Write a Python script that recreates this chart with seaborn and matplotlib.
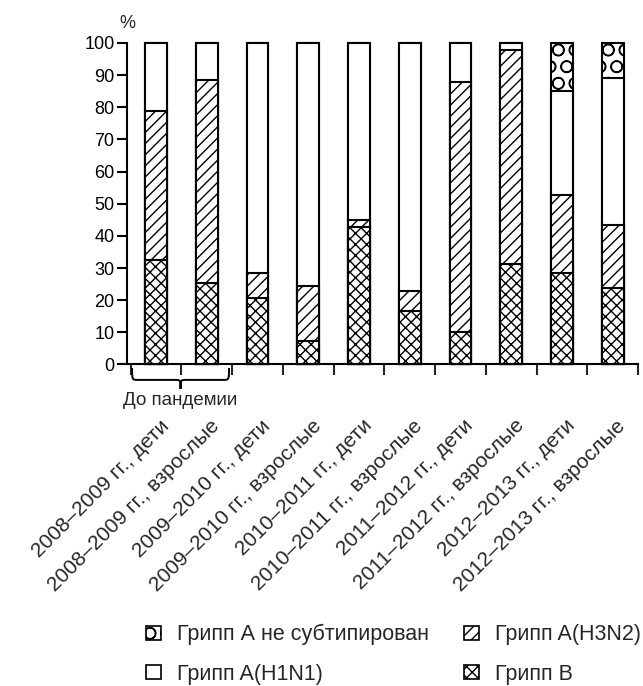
import numpy as np
import pandas as pd
import seaborn as sns
import matplotlib.pyplot as plt
from matplotlib.patches import Patch, PathPatch
from matplotlib.path import Path
from matplotlib.transforms import ScaledTranslation

sns.set_style('ticks')
plt.rcParams['font.family'] = ['Liberation Sans', 'DejaVu Sans']
plt.rcParams['hatch.linewidth'] = 1.0

seasons = [
    '2008–2009 гг., дети', '2008–2009 гг., взрослые',
    '2009–2010 гг., дети', '2009–2010 гг., взрослые',
    '2010–2011 гг., дети', '2010–2011 гг., взрослые',
    '2011–2012 гг., дети', '2011–2012 гг., взрослые',
    '2012–2013 гг., дети', '2012–2013 гг., взрослые',
]

# доли, % (снизу вверх)
gripp_b = [32.6, 25.4, 20.7, 7.4, 42.9, 16.6, 10.0, 31.2, 28.6, 23.7]
gripp_h3n2 = [46.3, 63.0, 7.9, 17.0, 1.9, 6.3, 77.7, 66.5, 24.2, 19.6]
gripp_h1n1 = [21.1, 11.6, 71.4, 75.6, 55.2, 77.1, 12.3, 2.3, 32.3, 45.7]
gripp_nesub = [0, 0, 0, 0, 0, 0, 0, 0, 14.9, 11.0]

df = pd.DataFrame({
    'season': seasons,
    'B': gripp_b,
    'H3N2': gripp_h3n2,
    'H1N1': gripp_h1n1,
    'nesub': gripp_nesub,
})
df['c1'] = df['B']
df['c2'] = df['c1'] + df['H3N2']
df['c3'] = df['c2'] + df['H1N1']
df['c4'] = df['c3'] + df['nesub']

fig = plt.figure(figsize=(6.43, 6.86), dpi=100)
ax = fig.add_axes([0.1975, 0.4687, 0.795, 0.4687])

layers = [
    ('c4', 'O'),
    ('c3', ''),
    ('c2', '///'),
    ('c1', 'xxx'),
]
for col, hatch in layers:
    sns.barplot(data=df, x='season', y=col, color='white', saturation=1,
                edgecolor='black', linewidth=1.5, width=0.43, hatch=hatch,
                ax=ax, clip_on=False)

ax.set_xlim(-0.57, 9.5)
ax.set_ylim(0, 100)
ax.set_yticks(range(0, 101, 10))
ax.set_xlabel('')
ax.set_ylabel('')
sns.despine(ax=ax)
for s in ['left', 'bottom']:
    ax.spines[s].set_linewidth(1.5)
    ax.spines[s].set_color('black')

ax.tick_params(axis='y', labelsize=13, length=7, width=1.5, pad=2, colors='black')
ax.set_xticks(range(len(seasons)))
ax.set_xticks(np.arange(-0.5, 10, 1), minor=True)
ax.tick_params(axis='x', which='major', length=0, pad=42, labelsize=15)
ax.tick_params(axis='x', which='minor', length=8, width=1.5, direction='out')
ax.set_xticklabels(seasons, rotation=45, ha='right', rotation_mode='anchor', va='center')
offset = ScaledTranslation(0.10, 0, fig.dpi_scale_trans)
for lab in ax.get_xticklabels():
    lab.set_transform(lab.get_transform() + offset)

ax.text(-0.57, 106, '%', ha='center', va='center', fontsize=13)

# фигурная скобка под первыми двумя столбцами
x0, x1 = -0.47, 1.44
xm = (x0 + x1) / 2
yt, ym, yp = -1.1, -4.8, -7.6
verts = [
    (x0, yt), (x0, ym), (x0, ym), (x0 + 0.12, ym),
    (xm - 0.12, ym),
    (xm, ym), (xm, ym), (xm, yp),
    (xm, ym), (xm, ym), (xm + 0.12, ym),
    (x1 - 0.12, ym),
    (x1, ym), (x1, ym), (x1, yt),
]
codes = [Path.MOVETO, Path.CURVE4, Path.CURVE4, Path.CURVE4,
         Path.LINETO,
         Path.CURVE4, Path.CURVE4, Path.CURVE4,
         Path.CURVE4, Path.CURVE4, Path.CURVE4,
         Path.LINETO,
         Path.CURVE4, Path.CURVE4, Path.CURVE4]
ax.add_patch(PathPatch(Path(verts, codes), fill=False, lw=1.4,
                       edgecolor='black', clip_on=False))
ax.text(xm, -11.3, 'До пандемии', ha='center', va='center', fontsize=13.5)

handles = [
    Patch(facecolor='white', edgecolor='black', hatch='O', lw=1.2),
    Patch(facecolor='white', edgecolor='black', lw=1.2),
    Patch(facecolor='white', edgecolor='black', hatch='///', lw=1.2),
    Patch(facecolor='white', edgecolor='black', hatch='xxx', lw=1.2),
]
labels = ['Грипп А не субтипирован', 'Грипп A(H1N1)', 'Грипп A(H3N2)', 'Грипп B']
fig.legend(handles, labels, ncol=2, loc='center', bbox_to_anchor=(0.612, 0.046),
           frameon=False, fontsize=15.5, handlelength=0.7, handleheight=0.62,
           labelspacing=0.85, columnspacing=1.6, handletextpad=0.75)

fig.savefig('out.png', dpi=100)
